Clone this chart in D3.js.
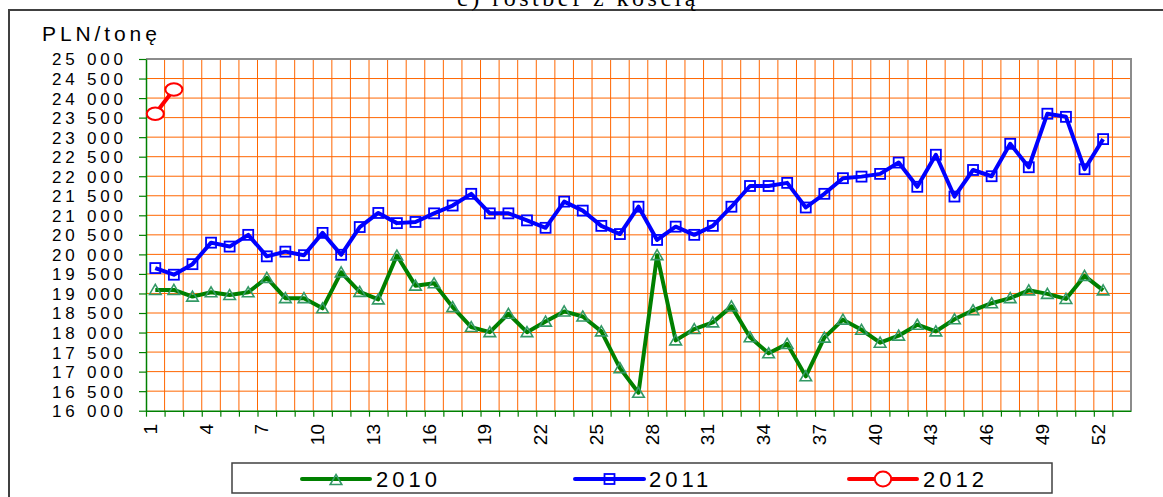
<!DOCTYPE html>
<html>
<head>
<meta charset="utf-8">
<script src="https://cdn.jsdelivr.net/npm/d3@7"></script>
<style>
  html, body { margin: 0; padding: 0; background: #fff; }
  svg { display: block; }
  text { font-family: Arial, "Liberation Sans", sans-serif; fill: #000; }
</style>
</head>
<body>
<svg id="chart" width="1163" height="497"></svg>
<script>
// Weekly prices of bone-in roast beef, PLN per tonne
const weeks = [1,2,3,4,5,6,7,8,9,10,11,12,13,14,15,16,17,18,19,20,21,22,23,24,25,26,
               27,28,29,30,31,32,33,34,35,36,37,38,39,40,41,42,43,44,45,46,47,48,49,50,51,52];
const weekLabels = [1,4,7,10,13,16,19,22,25,28,31,34,37,40,43,46,49,52];
const yTicks = [16000,16500,17000,17500,18000,18500,19000,19500,20000,20500,
                21000,21500,22000,22500,23000,23500,24000,24500,25000];

const price2010 = [19090,19090,18920,19030,18960,19030,19400,18880,18880,18620,
                   19540,19040,18850,19970,19200,19260,18650,18140,18010,18480,
                   18010,18280,18540,18410,18030,17090,16460,19980,17800,18090,
                   18260,18670,17880,17470,17710,16880,17870,18330,18070,17740,
                   17920,18200,18030,18340,18570,18750,18880,19080,18990,18860,
                   19450,19080];
const price2011 = [19650,19480,19750,20300,20200,20500,19950,20070,19980,20550,
                   19990,20700,21060,20800,20830,21050,21250,21550,21050,21050,
                   20870,20680,21350,21120,20730,20520,21220,20370,20710,20500,
                   20730,21220,21750,21750,21830,21200,21550,21950,21990,22060,
                   22350,21730,22550,21480,22160,22000,22830,22230,23600,23520,
                   22180,22950];
const price2012 = [23600,24220];

const svg = d3.select("#chart");
const plotL = 146, plotR = 1131, plotT = 59, plotB = 410.7;

// 53 week slots, the last one left empty
const x = d3.scaleLinear().domain([0.5, 53.5]).range([plotL, plotR]);
const y = d3.scaleLinear().domain([16000, 25000]).range([plotB, plotT]);

// outer frame
svg.append("line").attr("x1", 9).attr("x2", 1163).attr("y1", 10).attr("y2", 10)
  .attr("stroke", "#404040").attr("stroke-width", 2);
svg.append("line").attr("x1", 9).attr("x2", 9).attr("y1", 9).attr("y2", 497)
  .attr("stroke", "#404040").attr("stroke-width", 2);

// title, mostly above the frame
svg.append("text").attr("x", 578).attr("y", 6).attr("text-anchor", "middle")
  .style("font-family", "'Liberation Serif', 'Times New Roman', serif")
  .style("font-size", "24px").style("letter-spacing", "3.5px")
  .text("c) rostbef z kością");

// unit label
svg.append("text").attr("x", 42).attr("y", 41)
  .style("font-size", "21px").style("letter-spacing", "3.9px")
  .text("PLN/tonę");

// grid
const grid = svg.append("g");
grid.selectAll("line.v").data(weeks.map(w => w + 0.5)).join("line")
  .attr("class", "v")
  .attr("x1", d => x(d)).attr("x2", d => x(d))
  .attr("y1", plotT).attr("y2", plotB)
  .attr("stroke", "#FF6600").attr("stroke-width", 1);
grid.selectAll("line.h").data(yTicks.slice(1, -1)).join("line")
  .attr("class", "h")
  .attr("x1", plotL).attr("x2", plotR)
  .attr("y1", d => y(d)).attr("y2", d => y(d))
  .attr("stroke", "#FF6600").attr("stroke-width", 1);

// plot frame: grey top and right
svg.append("path")
  .attr("d", `M${plotL},${plotT}H${plotR}V${plotB}`)
  .attr("fill", "none").attr("stroke", "#8C8C8C").attr("stroke-width", 2);

// y axis
const fmt = v => d3.format(",")(v).replace(",", " ");
const yAxis = svg.append("g").attr("transform", `translate(${plotL},0)`)
  .call(d3.axisLeft(y).tickValues(yTicks).tickSize(7).tickSizeOuter(0).tickFormat(fmt));
yAxis.select(".domain").attr("stroke", "#008000").attr("stroke-width", 1.5);
yAxis.selectAll(".tick line").attr("stroke", "#008000").attr("stroke-width", 1.2);
yAxis.selectAll(".tick text")
  .attr("x", -23 + 3.8).attr("dy", "0.35em")
  .style("font-size", "17px").style("letter-spacing", "3.8px")
  .style("font-family", "Arial, 'Liberation Sans', sans-serif").attr("fill", "#000");

// x axis: ticks on the week boundaries, labels every third week
const xTickAxis = svg.append("g").attr("transform", `translate(0,${plotB})`)
  .call(d3.axisBottom(x).tickValues([0.5].concat(weeks.map(w => w + 0.5)))
    .tickSize(6).tickSizeOuter(0).tickFormat(""));
xTickAxis.select(".domain").attr("stroke", "#008000").attr("stroke-width", 1.5);
xTickAxis.selectAll(".tick line").attr("stroke", "#008000").attr("stroke-width", 1.2);

const xLabelAxis = svg.append("g").attr("transform", `translate(0,${plotB})`)
  .call(d3.axisBottom(x).tickValues(weekLabels).tickSize(0).tickFormat(d3.format("d")));
xLabelAxis.select(".domain").remove();
xLabelAxis.selectAll(".tick text")
  .attr("transform", "rotate(-90)")
  .attr("x", -(424 - plotB)).attr("y", 0).attr("dy", "0.05em")
  .attr("text-anchor", "end")
  .style("font-size", "19px")
  .style("font-family", "Arial, 'Liberation Sans', sans-serif").attr("fill", "#000");

// series
const line = d3.line().x(d => x(d.w)).y(d => y(d.v));
const pts = arr => arr.map((v, i) => ({ w: weeks[i], v }));

const triPath = "M0,-5.5L5.8,4.5L-5.8,4.5Z";

function drawSeries(data, color, width) {
  svg.append("path").datum(pts(data)).attr("d", line)
    .attr("fill", "none").attr("stroke", color).attr("stroke-width", width)
    .attr("stroke-linejoin", "round");
}

drawSeries(price2010, "#008000", 4);
svg.append("g").selectAll("path").data(pts(price2010)).join("path")
  .attr("d", triPath)
  .attr("transform", d => `translate(${x(d.w)},${y(d.v)})`)
  .attr("fill", "none").attr("stroke", "#339966").attr("stroke-width", 1.6);

drawSeries(price2011, "#0000FF", 4);
svg.append("g").selectAll("rect").data(pts(price2011)).join("rect")
  .attr("x", d => x(d.w) - 5).attr("y", d => y(d.v) - 5)
  .attr("width", 10).attr("height", 10)
  .attr("fill", "none").attr("stroke", "#0000FF").attr("stroke-width", 1.8);

drawSeries(price2012, "#FF0000", 4);
svg.append("g").selectAll("ellipse").data(pts(price2012)).join("ellipse")
  .attr("cx", d => x(d.w)).attr("cy", d => y(d.v))
  .attr("rx", 8.5).attr("ry", 6.2)
  .attr("fill", "#fff").attr("stroke", "#FF0000").attr("stroke-width", 2);

// legend
const lg = svg.append("g");
lg.append("rect").attr("x", 232).attr("y", 463).attr("width", 820).attr("height", 30)
  .attr("fill", "#fff").attr("stroke", "#404040").attr("stroke-width", 1.5);
const legendItems = [
  { name: "2010", color: "#008000", x0: 302, x1: 370, tx: 376, marker: "tri" },
  { name: "2011", color: "#0000FF", x0: 575, x1: 644, tx: 649, marker: "sq" },
  { name: "2012", color: "#FF0000", x0: 849, x1: 917, tx: 923, marker: "circ" }
];
const ly = 479;
legendItems.forEach(it => {
  lg.append("line").attr("x1", it.x0).attr("x2", it.x1).attr("y1", ly).attr("y2", ly)
    .attr("stroke", it.color).attr("stroke-width", 4).attr("stroke-linecap", "round");
  const cx = (it.x0 + it.x1) / 2;
  if (it.marker === "tri") {
    lg.append("path").attr("d", triPath).attr("transform", `translate(${cx},${ly + 1})`)
      .attr("fill", "none").attr("stroke", "#339966").attr("stroke-width", 1.6);
  } else if (it.marker === "sq") {
    lg.append("rect").attr("x", cx - 5).attr("y", ly - 5).attr("width", 10).attr("height", 10)
      .attr("fill", "none").attr("stroke", "#0000FF").attr("stroke-width", 1.8);
  } else {
    lg.append("ellipse").attr("cx", cx).attr("cy", ly).attr("rx", 8.2).attr("ry", 7.5)
      .attr("fill", "#fff").attr("stroke", "#FF0000").attr("stroke-width", 2);
  }
  lg.append("text").attr("x", it.tx).attr("y", ly + 8)
    .style("font-size", "22px").style("letter-spacing", "4px")
    .text(it.name);
});
</script>
</body>
</html>
